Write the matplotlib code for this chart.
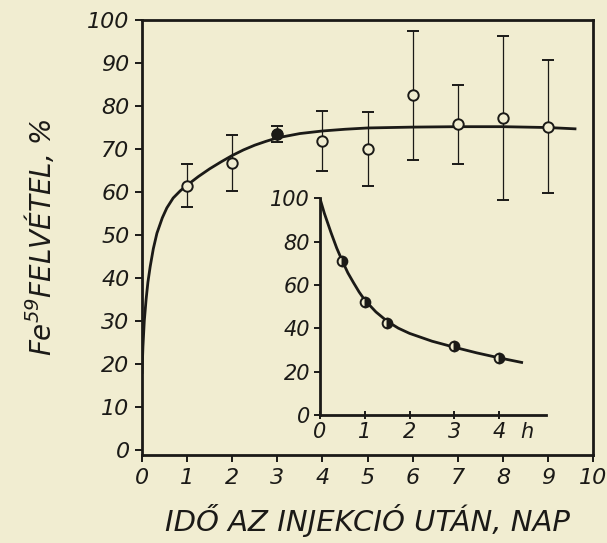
import matplotlib.pyplot as plt

# --- data ---
# main plot: Fe59 uptake (%) vs days after injection
days = [1, 2, 3, 4, 5, 6, 7, 8, 9]
uptake = [61.5, 66.7, 73.5, 71.8, 70.0, 82.5, 75.8, 77.2, 75.2]
uptake_err = [5.0, 6.5, 1.8, 7.0, 8.5, 15.0, 9.2, 19.0, 15.5]
filled_day = 3  # the one black point

# fitted curve
fit_x = [0, 0.02, 0.05, 0.09, 0.13, 0.18, 0.25, 0.33, 0.45, 0.55, 0.69,
         0.85, 1.0, 1.25, 1.5, 1.75, 2.0, 2.25, 2.5, 2.75, 3.0, 3.5, 4.0,
         4.5, 5.0, 6.0, 7.0, 8.0, 9.0, 9.6]
fit_y = [18, 24, 30, 35, 39, 42.6, 46.8, 50.4, 54.0, 56.3, 58.6,
         60.3, 61.6, 63.6, 65.4, 67.0, 68.5, 69.8, 70.9, 71.8, 72.6, 73.6, 74.2,
         74.6, 74.9, 75.1, 75.2, 75.2, 75.0, 74.7]

# inset: plasma activity (%) vs hours
hours = [0.5, 1.0, 1.5, 3.0, 4.0]
plasma = [71, 52, 42.4, 32, 26.3]
inset_x = [0, 0.05, 0.1, 0.15, 0.25, 0.375, 0.5, 0.625, 0.75, 0.875, 1.0,
           1.25, 1.5, 1.75, 2.0, 2.5, 3.0, 3.5, 4.0, 4.5]
inset_y = [100, 96.5, 93, 90, 84, 77, 71, 65.5, 61, 56.7, 53,
           47.5, 43.2, 40, 37.6, 34, 31.2, 28.6, 26.3, 24.2]

bg = '#f1edd1'
ink = '#1b1a17'
plt.rcParams['font.family'] = 'DejaVu Sans'
plt.rcParams['font.style'] = 'italic'
plt.rcParams['mathtext.fontset'] = 'dejavusans'
plt.rcParams['mathtext.default'] = 'it'

fig = plt.figure(figsize=(6.07, 5.43), dpi=100, facecolor=bg)

# --- main axes ---
ax = fig.add_axes([0.234, 0.162, 0.743, 0.801])
ax.set_facecolor(bg)
ax.plot(fit_x, fit_y, color=ink, linewidth=2.0, zorder=2)
ax.errorbar(days, uptake, yerr=uptake_err, fmt='o', color=ink,
            markersize=7.5, markerfacecolor=bg, markeredgewidth=1.4,
            ecolor=ink, elinewidth=0.9, capsize=4.3, capthick=0.9, zorder=3)
i = days.index(filled_day)
ax.plot(days[i], uptake[i], 'o', color=ink, markersize=7.5, zorder=4)

ax.set_xlim(0, 10)
ax.set_ylim(-1.2, 100)
ax.set_xticks(range(0, 11))
ax.set_yticks(range(0, 101, 10))
ax.tick_params(direction='out', length=5, width=1.4, colors=ink,
               labelsize=16, pad=4)
for s in ax.spines.values():
    s.set_linewidth(2.0)
    s.set_color(ink)
ax.set_xlabel('IDŐ AZ INJEKCIÓ UTÁN, NAP', fontsize=21, color=ink,
              labelpad=12)
ax.set_ylabel('Fe$^{59}$FELVÉTEL, %', fontsize=20, color=ink, labelpad=22)

# --- inset axes ---
ins = fig.add_axes([0.527, 0.236, 0.373, 0.399])
ins.patch.set_alpha(0)
ins.plot(inset_x, inset_y, color=ink, linewidth=2.0)
ins.plot(hours, plasma, 'o', color=ink, markersize=7, fillstyle='right',
         markerfacecolor=ink, markerfacecoloralt=bg, markeredgewidth=1.4)
ins.set_xlim(0, 5.05)
ins.set_ylim(0, 100)
ins.set_xticks(range(0, 5))
ins.set_yticks(range(0, 101, 20))
ins.spines['top'].set_visible(False)
ins.spines['right'].set_visible(False)
for s in ['left', 'bottom']:
    ins.spines[s].set_linewidth(2.0)
    ins.spines[s].set_color(ink)
ins.tick_params(axis='y', direction='out', length=4, width=1.4, colors=ink,
                labelsize=15, pad=3)
ins.tick_params(axis='x', direction='inout', length=6, width=1.4, colors=ink,
                labelsize=15, pad=2)
ins.text(4.62, -3.5, 'h', fontsize=15, color=ink, ha='center', va='top')

fig.savefig('out.png', dpi=100, facecolor=bg)
